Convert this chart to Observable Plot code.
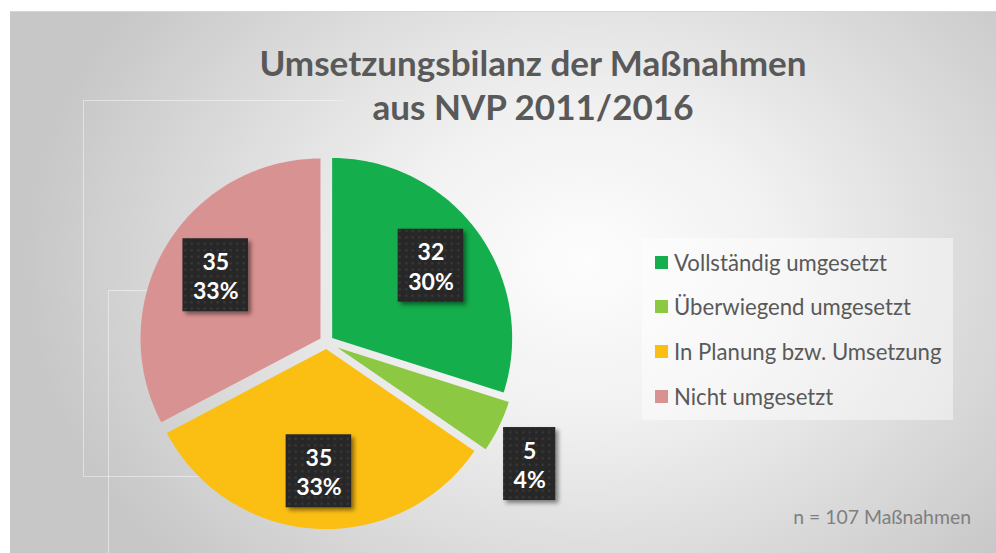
<!DOCTYPE html>
<html>
<head>
<meta charset="utf-8">
<script src="https://cdn.jsdelivr.net/npm/d3@7"></script>
<script src="https://cdn.jsdelivr.net/npm/@observablehq/plot@0.6"></script>
<style>
  html, body { margin: 0; padding: 0; background: #ffffff; }
  #wrap { position: relative; width: 996px; height: 553px; overflow: hidden; background: #ffffff; font-family: Lato, "Open Sans", sans-serif; }
  #panel { position: absolute; left: 10px; top: 11px; width: 986px; height: 542px;
    background: radial-gradient(ellipse 560px 440px at 575px 250px, #fdfdfd 0%, #f1f1f1 35%, #d9d9d9 72%, #c7c7c7 100%);
    border-top: 1px solid #d6d6d6; }
  .ghost { position: absolute; border-style: solid; border-color: rgba(255,255,255,0.45); border-width: 1px 0 1px 1px; box-sizing: border-box; }
  #title { position: absolute; top: 40px; text-align: center; color: #595959; font-weight: 700; line-height: 44px; white-space: nowrap; }
  #chart { position: absolute; left: 0; top: 0; }
  #legend { position: absolute; left: 642px; top: 238px; width: 311px; height: 182px; background: rgba(255,255,255,0.45); }
  .item { position: absolute; left: 13px; height: 30px; display: flex; align-items: center; color: #595959; white-space: nowrap; }
  .sw { width: 13px; height: 13px; margin-right: 6px; flex: none; }
  #caption { position: absolute; right: 25px; top: 505px; color: #7f7f7f; white-space: nowrap; }
  g[aria-label="rect"] { filter: drop-shadow(3px 3px 2px rgba(0,0,0,0.45)); }
</style>
</head>
<body>
<div id="wrap">
  <div id="panel"></div>
  <div class="ghost" style="left:83px;top:100px;width:260px;height:377px;"></div>
  <div class="ghost" style="left:108px;top:290px;width:120px;height:300px;"></div>
  <div id="title"></div>
  <div id="legend"></div>
  <div id="caption"></div>
</div>
<script>
// ---- data ----
const categories = ["Vollständig umgesetzt", "Überwiegend umgesetzt", "In Planung bzw. Umsetzung", "Nicht umgesetzt"];
const counts = [32, 5, 35, 35];
const percentLabels = ["30%", "4%", "33%", "33%"];
const colors = ["#14AE4C", "#8DC843", "#FBBF14", "#D99292"];
const titleLines = ["Umsetzungsbilanz der Maßnahmen", "aus NVP 2011/2016"];
const captionText = "n = 107 Maßnahmen";

// ---- layout ----
const W = 996, H = 553;
const cx = 326, cy = 341.6, R = 180;   // pie centre / radius in px
const FONT = "Lato, 'Open Sans', sans-serif";
const LABEL_FS = 23;

const ctx = document.createElement("canvas").getContext("2d");
function fitSize(text, weight, targetWidth) {
  ctx.font = `${weight} 100px Lato`;
  return 100 * targetWidth / ctx.measureText(text).width;
}
function textWidth(text, weight, size) {
  ctx.font = `${weight} ${size}px Lato`;
  return ctx.measureText(text).width;
}

// title
const titleEl = document.getElementById("title");
const tSize = fitSize(titleLines[0], 700, 548);
titleEl.style.fontSize = tSize + "px";
titleEl.style.left = "10px";
titleEl.style.width = "1046px";
titleEl.innerHTML = titleLines.map(t => `<div>${t}</div>`).join("");

// legend
const legendEl = document.getElementById("legend");
const lSize = fitSize(categories[0], 400, 213);
categories.forEach((c, i) => {
  const it = document.createElement("div");
  it.className = "item";
  it.style.top = (24 + i * 44.7 - 15) + "px";
  it.style.fontSize = lSize + "px";
  it.innerHTML = `<span class="sw" style="background:${colors[i]}"></span><span>${c}</span>`;
  legendEl.appendChild(it);
});

// caption
const capEl = document.getElementById("caption");
capEl.style.fontSize = fitSize(captionText, 400, 178) + "px";
capEl.textContent = captionText;

// ---- pie geometry (data units: unit circle, y up) ----
const total = d3.sum(counts);
const rows = categories.map((c, i) => ({key: c, count: counts[i], pct: percentLabels[i]}));
const arcs = d3.pie().sort(null).value(d => d.count).startAngle(0).endAngle(2 * Math.PI)(rows);

const wedgePts = [];
const labels = [];
arcs.forEach(a => {
  const small = a.data.count / total < 0.1;
  const ex = (small ? 12 : 7) / R;
  const mid = (a.startAngle + a.endAngle) / 2;
  const ox = ex * Math.sin(mid), oy = ex * Math.cos(mid);
  wedgePts.push({key: a.data.key, x: ox, y: oy});
  const n = Math.max(2, Math.ceil((a.endAngle - a.startAngle) / (Math.PI / 180)));
  for (let k = 0; k <= n; k++) {
    const t = a.startAngle + (a.endAngle - a.startAngle) * k / n;
    wedgePts.push({key: a.data.key, x: ox + Math.sin(t), y: oy + Math.cos(t)});
  }
  const lr = small ? 1.25 : 0.68;
  const la = small ? mid + 0.09 : mid;
  const tw = Math.max(textWidth(String(a.data.count), 700, LABEL_FS), textWidth(a.data.pct, 700, LABEL_FS));
  const hw = (tw / 2 + 10) / R, hh = 36.5 / R;
  const lx = ox + lr * Math.sin(la), ly = oy + lr * Math.cos(la);
  labels.push({key: a.data.key, text: a.data.count + "\n" + a.data.pct, x: lx, y: ly,
    x1: lx - hw, x2: lx + hw, y1: ly - hh, y2: ly + hh});
});

const svg = Plot.plot({
  width: W, height: H,
  margin: 0,
  style: {background: "transparent", overflow: "visible"},
  x: {domain: [-1, 1], range: [cx - R, cx + R], axis: null},
  y: {domain: [-1, 1], range: [cy + R, cy - R], axis: null},
  color: {domain: categories, range: colors},
  marks: [
    Plot.line(wedgePts, {x: "x", y: "y", z: "key", fill: "key", stroke: null, curve: "linear-closed"}),
    Plot.rect(labels, {x1: "x1", x2: "x2", y1: "y1", y2: "y2", fill: "url(#dots)"}),
    Plot.text(labels, {x: "x", y: "y", text: "text", fill: "white", fontSize: LABEL_FS, fontWeight: "bold",
      fontFamily: FONT, lineHeight: 1.27})
  ]
});
svg.id = "chart";
const ns = "http://www.w3.org/2000/svg";
const defs = document.createElementNS(ns, "defs");
defs.innerHTML = `<pattern id="dots" width="6.5" height="6.5" patternUnits="userSpaceOnUse">
  <rect width="6.5" height="6.5" fill="#272727"></rect>
  <circle cx="3.25" cy="3.25" r="1.1" fill="#3d3d3d"></circle></pattern>`;
svg.insertBefore(defs, svg.firstChild);
document.getElementById("wrap").insertBefore(svg, document.getElementById("title"));
</script>
</body>
</html>
